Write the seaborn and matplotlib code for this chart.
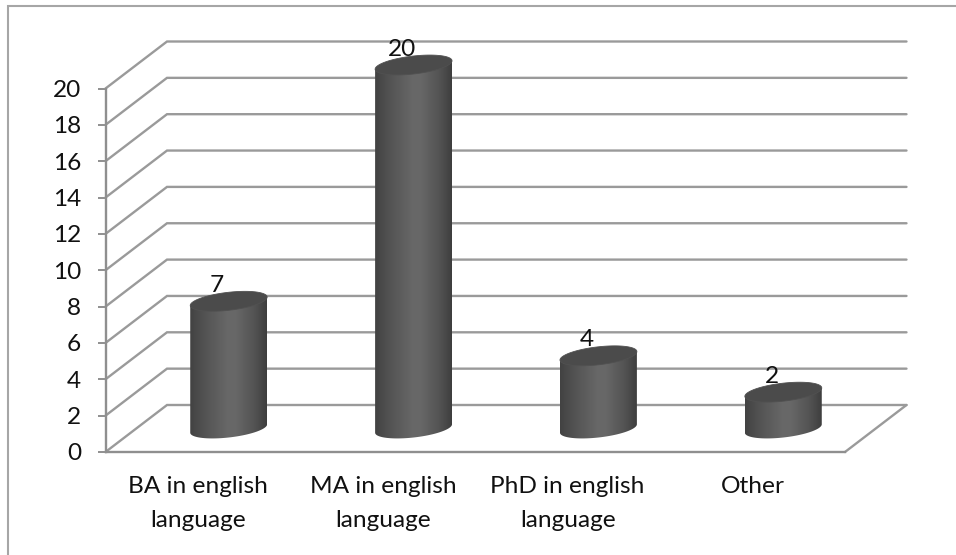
import numpy as np
import pandas as pd
import matplotlib
matplotlib.use("Agg")
import matplotlib.pyplot as plt
from matplotlib.colors import LinearSegmentedColormap
from matplotlib.patches import Polygon, Rectangle
import seaborn as sns

# Highest degree held by respondents
categories = ["BA in english\nlanguage", "MA in english\nlanguage",
              "PhD in english\nlanguage", "Other"]
values = [7, 20, 4, 2]
y_ticks = list(range(0, 21, 2))

W, H = 956, 555
AX_L, AX_R, AX_T, AX_B = 105.5, 845.0, 88.5, 452.0
DEPTH_X, DEPTH_Y = 61.5, 47.0          # oblique depth of the chart box, pixels
GRID = "#9a9a9a"
AXIS = "#8f8f8f"
TEXT = "#111111"
FONT_SIZE = 17.6

sns.set_theme(style="white")
plt.rcParams["font.family"] = ["Lato", "DejaVu Sans"]

fig = plt.figure(figsize=(W / 100, H / 100), dpi=100)
ax = fig.add_axes([AX_L / W, 1 - AX_B / H, (AX_R - AX_L) / W, (AX_B - AX_T) / H])

df = pd.DataFrame({"degree": categories, "count": values})
sns.barplot(data=df, x="degree", y="count", ax=ax, width=0.416, color="#505050", zorder=3)

ax.set_xlim(-0.5, 3.5)
ax.set_ylim(0, 20)
ux = 4 / (AX_R - AX_L)      # data units per pixel, horizontally
uy = 20 / (AX_B - AX_T)     # data units per pixel, vertically
dx, dy = DEPTH_X * ux, DEPTH_Y * uy

# Oblique walls: a diagonal and a back line for each gridline
for v in y_ticks:
    ax.plot([-0.5, -0.5 + dx, 3.5 + dx], [v, v + dy, v + dy], color=GRID, lw=1.7,
            clip_on=False, zorder=1, solid_joinstyle="miter")
ax.plot([3.5, 3.5 + dx], [0, dy], color=GRID, lw=1.7, clip_on=False, zorder=1)

# Cylinders built from the bars seaborn laid out
shade = LinearSegmentedColormap.from_list(
    "cyl", [(0, "#424242"), (0.2, "#545454"), (0.5, "#686868"), (0.6, "#676767"),
            (0.85, "#525252"), (1, "#3e3e3e")])
ramp = np.linspace(0, 1, 256)[None, :]
theta = np.linspace(0, 2 * np.pi, 121)

for bar in list(ax.patches):
    cx = bar.get_x() + bar.get_width() / 2 + dx / 2
    a = bar.get_width() / 2
    top = bar.get_height() + dy / 2
    base = dy / 2
    tilt = 4.2 * uy
    b = 9.0 * uy
    bar.set_visible(False)

    ex = a * np.cos(theta)
    ey = b * np.sin(theta) + tilt * np.cos(theta)

    # Silhouette: left side down, lower half of the base ellipse, right side up
    lower = theta[60:121]
    xs = cx + a * np.cos(lower)
    ys = base + b * np.sin(lower) + tilt * np.cos(lower)
    body_xy = np.column_stack([np.r_[cx - a, xs, cx + a], np.r_[top - tilt, ys, top + tilt]])
    body = Polygon(body_xy, closed=True, transform=ax.transData, fc="none", ec="none",
                   clip_on=False)
    ax.add_patch(body)
    img = ax.imshow(ramp, cmap=shade, aspect="auto", zorder=3, vmin=0, vmax=1,
                    extent=(cx - a, cx + a, base - 12 * uy, top + 12 * uy),
                    interpolation="bilinear")
    img.set_clip_path(body)
    img.set_clip_box(fig.bbox)      # the tallest cylinder rises above the axes box

    ax.add_patch(Polygon(np.column_stack([cx + ex, top + ey]), closed=True,
                         fc="#4b4b4b", ec="#515151", lw=0.6, zorder=4, clip_on=False))
    ax.annotate(f"{bar.get_height():.0f}",
                xy=(cx, top), xytext=(-8.5, 11.5), textcoords="offset points",
                ha="center", va="center", fontsize=FONT_SIZE, color=TEXT, zorder=5,
                annotation_clip=False)

ax.set_xlim(-0.5, 3.5)
ax.set_ylim(0, 20)
ax.patch.set_visible(False)

sns.despine(ax=ax, top=True, right=True)
for side in ("left", "bottom"):
    ax.spines[side].set_color(AXIS)
    ax.spines[side].set_linewidth(1.7)
    ax.spines[side].set_zorder(2)

ax.set_xlabel("")
ax.set_ylabel("")
ax.set_yticks(y_ticks)
ax.tick_params(axis="y", direction="out", length=5.5, width=1.4, color=AXIS,
               left=True, labelsize=FONT_SIZE, labelcolor=TEXT, pad=12)
ax.set_xticks(range(len(categories)))
ax.set_xticklabels(categories, linespacing=1.72)
ax.tick_params(axis="x", length=0, labelsize=FONT_SIZE, labelcolor=TEXT, pad=17.5)

# Chart-area border
fig.add_artist(Rectangle((8 / W, -0.02), 1, 1 - 5.5 / H + 0.02, transform=fig.transFigure,
                         fc="none", ec="#a6a6a6", lw=1.5))

fig.savefig("out.png", dpi=100)
